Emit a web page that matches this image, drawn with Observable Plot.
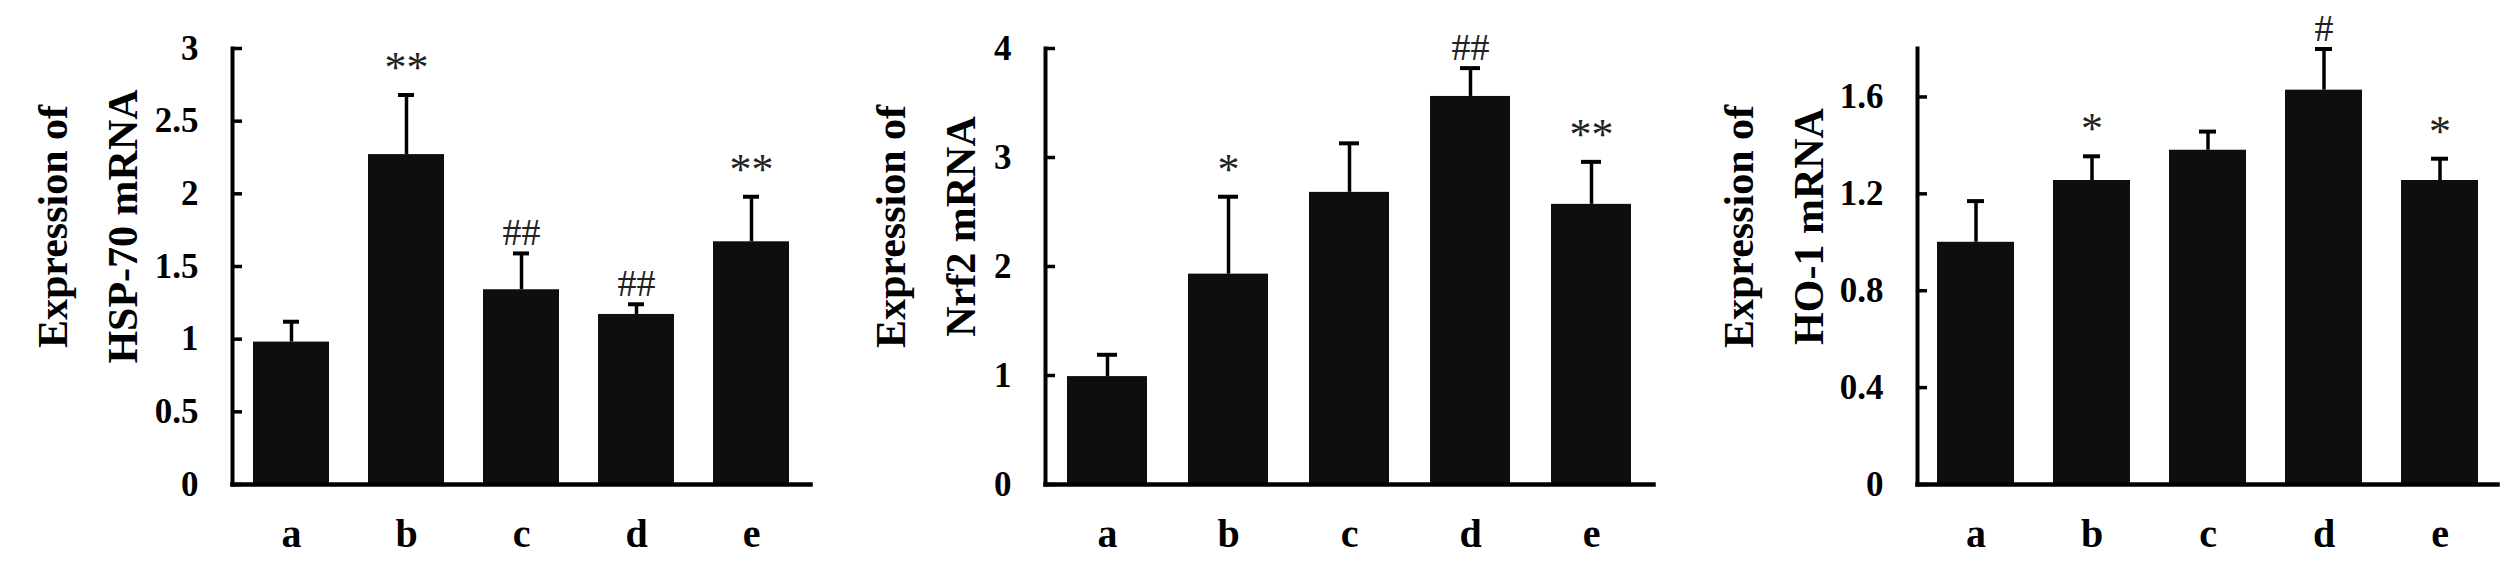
<!DOCTYPE html>
<html><head><meta charset="utf-8">
<script src="https://cdn.jsdelivr.net/npm/d3@7"></script>
<script src="https://cdn.jsdelivr.net/npm/@observablehq/plot@0.6"></script>
<style>
html,body{margin:0;padding:0;background:#fff;}
#wrap{position:relative;width:2510px;height:576px;overflow:hidden;background:#fff;}
.panel{position:absolute;top:0;}
</style></head><body><div id="wrap"></div>
<script>
// ---- data ----
const categories = ["a", "b", "c", "d", "e"];

const hsp70Mean = [0.98, 2.27, 1.34, 1.17, 1.67];
const hsp70Err  = [0.14, 0.41, 0.25, 0.07, 0.31];
const hsp70Sig  = ["", "**", "##", "##", "**"];
const hsp70Ticks = [0, 0.5, 1, 1.5, 2, 2.5, 3];

const nrf2Mean = [0.99, 1.93, 2.68, 3.56, 2.57];
const nrf2Err  = [0.20, 0.71, 0.45, 0.26, 0.39];
const nrf2Sig  = ["", "*", "", "##", "**"];
const nrf2Ticks = [0, 1, 2, 3, 4];

const ho1Mean = [1.00, 1.255, 1.38, 1.628, 1.255];
const ho1Err  = [0.17, 0.10, 0.077, 0.17, 0.09];
const ho1Sig  = ["", "*", "", "#", "*"];
const ho1Ticks = [0, 0.4, 0.8, 1.2, 1.6];

const titles = ["Expression of\nHSP-70 mRNA", "Expression of\nNrf2 mRNA", "Expression of\nHO-1 mRNA"];

// ---- layout ----
const SERIF = "'Liberation Serif', 'Times New Roman', Times, serif";
const panels = [
  {left: 0,    width: 830, marginLeft: 232, marginRight: 20, domain: [0, 3],   ticks: hsp70Ticks, mean: hsp70Mean, err: hsp70Err, sig: hsp70Sig, title: titles[0], titleDx: -153},
  {left: 840,  width: 830, marginLeft: 205, marginRight: 17, domain: [0, 4],   ticks: nrf2Ticks,  mean: nrf2Mean,  err: nrf2Err,  sig: nrf2Sig,  title: titles[1], titleDx: -128},
  {left: 1670, width: 840, marginLeft: 247, marginRight: 13, domain: [0, 1.8], ticks: ho1Ticks,   mean: ho1Mean,   err: ho1Err,   sig: ho1Sig,   title: titles[2], titleDx: -152}
];

const wrap = document.getElementById("wrap");
for (const p of panels) {
  const rows = categories.map((c, i) => ({cat: c, mean: p.mean[i], top: p.mean[i] + p.err[i], sig: p.sig[i]}));
  const stars = rows.filter(d => d.sig.includes("*"));
  const hashes = rows.filter(d => d.sig.includes("#"));
  const chart = Plot.plot({
    width: p.width,
    height: 576,
    marginLeft: p.marginLeft,
    marginRight: p.marginRight,
    marginTop: 48,
    marginBottom: 92,
    style: {background: "transparent", color: "#000", fontFamily: SERIF},
    x: {domain: categories, paddingInner: 0.34, paddingOuter: 0.17, label: null},
    y: {domain: p.domain, label: null},
    marks: [
      Plot.barY(rows, {x: "cat", y: "mean", fill: "#0e0e0e"}),
      Plot.ruleX(rows, {x: "cat", y1: "mean", y2: "top", stroke: "#000", strokeWidth: 3.5}),
      Plot.tickY(rows, {x: "cat", y: "top", stroke: "#000", strokeWidth: 4, insetLeft: 30, insetRight: 30}),
      Plot.text(stars, {x: "cat", y: "top", text: "sig", dy: -13, lineAnchor: "bottom", fontSize: 44, fontFamily: SERIF, fill: "#222", letterSpacing: "2px"}),
      Plot.text(hashes, {x: "cat", y: "top", text: "sig", dy: -8, lineAnchor: "bottom", fontSize: 38, fontFamily: SERIF, fill: "#222"}),
      Plot.frame({anchor: "left", stroke: "#000", strokeWidth: 4}),
      Plot.frame({anchor: "bottom", stroke: "#000", strokeWidth: 4.5}),
      Plot.axisY({ticks: p.ticks, tickFormat: d => `${d}`, tickSize: -10, tickPadding: 44, strokeWidth: 3.5, fontSize: 35, fontWeight: "bold", fontFamily: SERIF, label: null}),
      Plot.axisX({tickSize: 0, tickPadding: 34, fontSize: 40, fontWeight: "bold", fontFamily: SERIF, label: null}),
      Plot.text([p.title], {frameAnchor: "left", rotate: -90, dx: p.titleDx, dy: -40, fontSize: 42, fontWeight: "bold", lineHeight: 1.67, lineAnchor: "middle", textAnchor: "middle", fontFamily: SERIF, fill: "#000"})
    ]
  });
  const div = document.createElement("div");
  div.className = "panel";
  div.style.left = p.left + "px";
  div.appendChild(chart);
  wrap.appendChild(div);
}
</script>
</body></html>
